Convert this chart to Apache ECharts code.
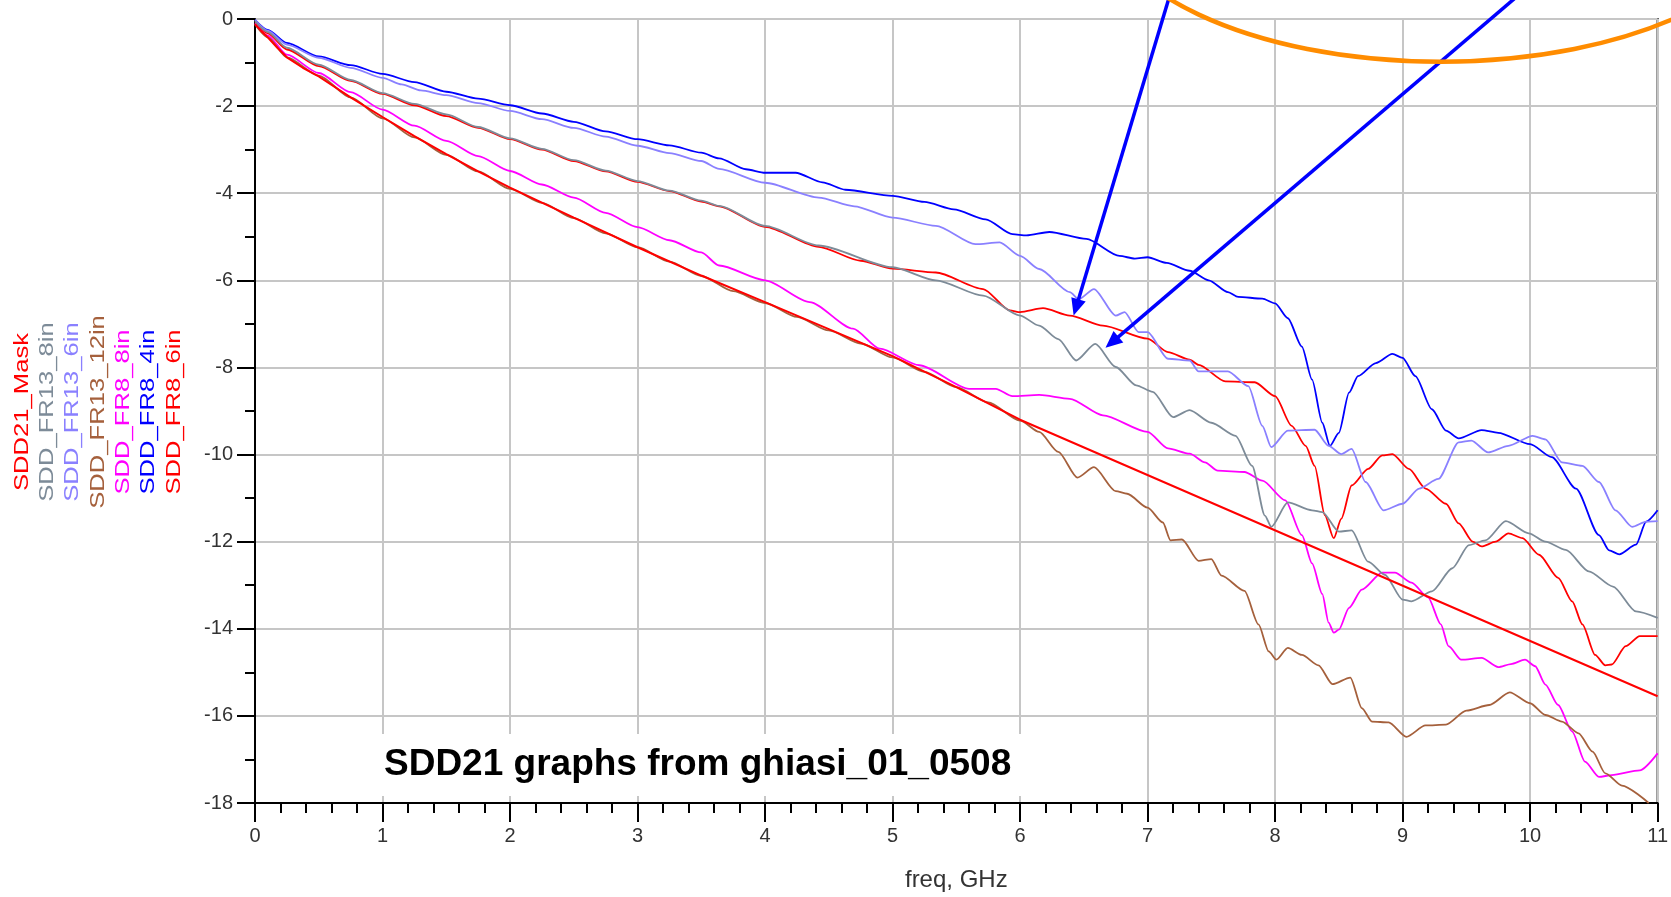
<!DOCTYPE html>
<html>
<head>
    <meta charset="utf-8"/>
    <title>SDD21 graphs</title>
    <style>
        html, body {
            margin: 0;
            padding: 0;
            background: #fff;
        }
        #main {
            width: 1671px;
            height: 897px;
        }
    </style>
</head>
<body>
<div id="main"></div>

<script src="https://cdn.jsdelivr.net/npm/echarts/dist/echarts.min.js"></script>
<script>
    // ---- data: [freq GHz, dB] ----
    var maskData = [[0, -0.12], [0.05, -0.28], [0.1, -0.42], [0.175, -0.66], [0.25, -0.88], [0.375, -1.12],
        [0.5, -1.32], [0.75, -1.8], [1.0, -2.25], [1.25, -2.69], [1.5, -3.1], [1.75, -3.5], [2.0, -3.87], [2.5, -4.56],
        [3.0, -5.24], [3.5, -5.89], [4.0, -6.5], [4.5, -7.12], [5.0, -7.74], [5.5, -8.45], [6.0, -9.2], [11.0, -15.55]];

    var fr13_8in = [[0, -0.05], [0.1, -0.3], [0.25, -0.66], [0.5, -1.05], [0.75, -1.4], [1.0, -1.7], [1.25, -1.95],
        [1.5, -2.19], [1.75, -2.48], [2.0, -2.74], [2.25, -2.98], [2.5, -3.24], [2.75, -3.48], [3.0, -3.72], [3.25, -3.94],
        [3.5, -4.17], [3.64, -4.29], [4.0, -4.75], [4.42, -5.2], [5.0, -5.7], [5.34, -6.0], [5.71, -6.35], [6.0, -6.81],
        [6.15, -7.04], [6.3, -7.35], [6.44, -7.84], [6.59, -7.46], [6.75, -7.99], [6.91, -8.41], [7.04, -8.56], [7.2, -9.14],
        [7.33, -8.98], [7.5, -9.27], [7.69, -9.57], [7.82, -10.26], [7.92, -11.4], [7.97, -11.66], [8.1, -11.1],
        [8.29, -11.28], [8.37, -11.32], [8.5, -11.77], [8.6, -11.74], [8.73, -12.46], [8.86, -12.76], [9.0, -13.33],
        [9.07, -13.37], [9.23, -13.14], [9.39, -12.61], [9.52, -12.08], [9.65, -11.97], [9.81, -11.53], [9.99, -11.81],
        [10.12, -12.0], [10.28, -12.19], [10.46, -12.68], [10.65, -13.03], [10.83, -13.6], [11.0, -13.75]];

    var fr13_6in = [[0, -0.02], [0.1, -0.27], [0.25, -0.59], [0.5, -0.89], [0.75, -1.12], [1.0, -1.35], [1.15, -1.5],
        [1.3, -1.64], [1.5, -1.75], [1.75, -1.93], [2.0, -2.11], [2.25, -2.3], [2.5, -2.5], [2.75, -2.7], [3.0, -2.91],
        [3.25, -3.08], [3.5, -3.26], [3.64, -3.44], [4.0, -3.76], [4.42, -4.1], [4.7, -4.3], [5.0, -4.56], [5.34, -4.75],
        [5.65, -5.17], [5.84, -5.13], [6.0, -5.44], [6.15, -5.74], [6.39, -6.27], [6.46, -6.43], [6.58, -6.2], [6.75, -6.81],
        [6.82, -6.73], [6.93, -7.19], [7.0, -7.19], [7.16, -7.8], [7.33, -7.84], [7.4, -8.09], [7.63, -8.09], [7.79, -8.43],
        [7.9, -9.34], [7.97, -9.83], [8.1, -9.45], [8.31, -9.43], [8.42, -9.8], [8.52, -9.99], [8.6, -9.87], [8.71, -10.63],
        [8.85, -11.28], [9.0, -11.13], [9.13, -10.78], [9.28, -10.56], [9.44, -9.72], [9.54, -9.68], [9.67, -9.95],
        [9.83, -9.8], [10.02, -9.57], [10.12, -9.65], [10.25, -10.18], [10.41, -10.26], [10.54, -10.63], [10.67, -11.28],
        [10.8, -11.66], [10.91, -11.54], [11.0, -11.53]];

    var fr13_12in = [[0, -0.12], [0.1, -0.42], [0.25, -0.88], [0.5, -1.3], [0.75, -1.8], [1.0, -2.28], [1.25, -2.72],
        [1.5, -3.12], [1.75, -3.5], [2.0, -3.9], [2.25, -4.22], [2.5, -4.57], [2.75, -4.92], [3.0, -5.24], [3.25, -5.57],
        [3.5, -5.9], [3.75, -6.25], [4.0, -6.52], [4.25, -6.84], [4.5, -7.15], [4.75, -7.45], [5.0, -7.77], [5.25, -8.1],
        [5.5, -8.45], [5.75, -8.8], [6.0, -9.22], [6.15, -9.48], [6.3, -9.94], [6.45, -10.53], [6.58, -10.29], [6.75, -10.84],
        [6.84, -10.9], [7.0, -11.22], [7.12, -11.56], [7.18, -11.97], [7.27, -11.95], [7.4, -12.44], [7.5, -12.4],
        [7.58, -12.78], [7.76, -13.13], [7.87, -13.9], [7.95, -14.52], [8.01, -14.71], [8.1, -14.44], [8.21, -14.6],
        [8.34, -14.84], [8.45, -15.27], [8.59, -15.12], [8.68, -15.82], [8.76, -16.13], [8.89, -16.15], [9.03, -16.48],
        [9.18, -16.22], [9.34, -16.2], [9.5, -15.88], [9.68, -15.75], [9.84, -15.46], [10.0, -15.71], [10.12, -15.98],
        [10.25, -16.13], [10.38, -16.4], [10.49, -16.82], [10.59, -17.32], [10.72, -17.6], [10.93, -18.0]];

    var fr8_8in = [[0, -0.1], [0.1, -0.38], [0.25, -0.82], [0.5, -1.24], [0.75, -1.68], [1.0, -2.08], [1.25, -2.45],
        [1.5, -2.8], [1.75, -3.15], [2.0, -3.49], [2.25, -3.8], [2.5, -4.1], [2.75, -4.45], [3.0, -4.78], [3.25, -5.08],
        [3.5, -5.36], [3.64, -5.66], [4.0, -6.0], [4.35, -6.5], [4.69, -7.11], [4.9, -7.57], [5.21, -7.95], [5.6, -8.49],
        [5.81, -8.49], [5.94, -8.66], [6.15, -8.63], [6.39, -8.72], [6.65, -9.1], [7.0, -9.48], [7.16, -9.86], [7.33, -9.98],
        [7.45, -10.18], [7.55, -10.37], [7.76, -10.4], [7.9, -10.6], [8.08, -11.05], [8.21, -11.85], [8.29, -12.5],
        [8.37, -13.2], [8.42, -13.86], [8.46, -14.09], [8.5, -14.02], [8.58, -13.52], [8.68, -13.1], [8.84, -12.71],
        [8.94, -12.71], [9.07, -12.94], [9.2, -13.28], [9.3, -13.9], [9.36, -14.4], [9.46, -14.71], [9.62, -14.67],
        [9.75, -14.88], [9.85, -14.81], [9.96, -14.71], [10.04, -14.86], [10.12, -15.28], [10.22, -15.75], [10.33, -16.36],
        [10.43, -17.05], [10.54, -17.4], [10.64, -17.36], [10.86, -17.25], [11.0, -16.86]];

    var fr8_4in = [[0, -0.02], [0.1, -0.25], [0.25, -0.55], [0.5, -0.86], [0.75, -1.06], [1.0, -1.26], [1.25, -1.45],
        [1.5, -1.67], [1.75, -1.83], [2.0, -1.98], [2.25, -2.17], [2.5, -2.36], [2.75, -2.58], [3.0, -2.76], [3.25, -2.9],
        [3.5, -3.07], [3.64, -3.2], [3.85, -3.45], [4.0, -3.53], [4.24, -3.53], [4.45, -3.75], [4.63, -3.92], [5.0, -4.06],
        [5.25, -4.2], [5.48, -4.37], [5.73, -4.6], [5.94, -4.94], [6.05, -4.97], [6.23, -4.89], [6.52, -5.05], [6.78, -5.44],
        [6.9, -5.5], [7.0, -5.47], [7.15, -5.6], [7.33, -5.78], [7.48, -6.0], [7.63, -6.27], [7.71, -6.38], [7.9, -6.42],
        [8.0, -6.53], [8.1, -6.87], [8.21, -7.52], [8.29, -8.28], [8.37, -9.27], [8.43, -9.8], [8.5, -9.5], [8.58, -8.58],
        [8.65, -8.2], [8.79, -7.9], [8.92, -7.69], [9.0, -7.78], [9.1, -8.2], [9.23, -8.96], [9.34, -9.45], [9.44, -9.63],
        [9.62, -9.44], [9.75, -9.5], [10.0, -9.76], [10.17, -10.06], [10.36, -10.78], [10.54, -11.85], [10.62, -12.2],
        [10.7, -12.29], [10.83, -12.07], [10.91, -11.54], [11.0, -11.28]];

    var fr8_6in = [[0, -0.08], [0.1, -0.33], [0.25, -0.7], [0.5, -1.08], [0.75, -1.42], [1.0, -1.72], [1.25, -1.98],
        [1.5, -2.23], [1.75, -2.5], [2.0, -2.76], [2.25, -3.0], [2.5, -3.26], [2.75, -3.5], [3.0, -3.74], [3.25, -3.95],
        [3.5, -4.19], [3.64, -4.3], [4.0, -4.77], [4.42, -5.23], [4.75, -5.55], [5.0, -5.73], [5.34, -5.82], [5.71, -6.2],
        [5.92, -6.69], [6.0, -6.73], [6.18, -6.64], [6.39, -6.81], [6.65, -7.04], [7.0, -7.34], [7.16, -7.65], [7.33, -7.82],
        [7.4, -7.94], [7.61, -8.32], [7.84, -8.34], [8.0, -8.66], [8.13, -9.34], [8.24, -9.8], [8.31, -10.26], [8.39, -11.39],
        [8.46, -11.92], [8.52, -11.47], [8.6, -10.71], [8.73, -10.33], [8.84, -10.02], [8.92, -9.99], [9.05, -10.33],
        [9.18, -10.78], [9.34, -11.13], [9.44, -11.58], [9.55, -12.0], [9.62, -12.11], [9.73, -12.0], [9.83, -11.81],
        [9.94, -11.92], [10.07, -12.3], [10.22, -12.83], [10.33, -13.37], [10.41, -13.9], [10.51, -14.6], [10.59, -14.84],
        [10.64, -14.82], [10.75, -14.4], [10.86, -14.17], [11.0, -14.17]];

    // legend order (left to right), colours and data
    var seriesNames = ['SDD21_Mask', 'SDD_FR13_8in', 'SDD_FR13_6in', 'SDD_FR13_12in', 'SDD_FR8_8in', 'SDD_FR8_4in', 'SDD_FR8_6in'];
    var seriesColors = ['#ff0000', '#7d8b98', '#8a80ff', '#a5603c', '#ff00ff', '#0000ff', '#ff0000'];
    var seriesData = [maskData, fr13_8in, fr13_6in, fr13_12in, fr8_8in, fr8_4in, fr8_6in];

    var titleText = 'SDD21 graphs from ghiasi_01_0508';

    // annotations (data coords): arrow tips and tails, orange ellipse
    var arrowTips = [[6.42, -6.81], [6.67, -7.55]];
    var arrowTails = [[7.18, 0.6], [9.93, 0.6]];
    var ellipseCenter = [9.3, 2.73];
    var ellipseRadii = [2.69, 3.71];

    var font = '"Liberation Sans", Arial, sans-serif';
    var chart = echarts.init(document.getElementById('main'));

    // draw in reverse legend order so mask ends up on top
    var series = [];
    for (var i = seriesNames.length - 1; i >= 0; i--) {
        series.push({
            name: seriesNames[i],
            type: 'line',
            data: seriesData[i],
            showSymbol: false,
            // mask is piecewise straight, measured traces are smooth
            smooth: i === 0 ? false : 0.25,
            smoothMonotone: 'x',
            lineStyle: {color: seriesColors[i], width: i === 0 ? 2 : 1.8},
            itemStyle: {color: seriesColors[i]},
            animation: false
        });
    }

    var option = {
        animation: false,
        backgroundColor: '#fff',
        title: {
            text: titleText,
            left: 370,
            top: 734,
            padding: [11, 14],
            backgroundColor: '#fff',
            textStyle: {fontSize: 37, fontWeight: 'bold', fontFamily: font, color: '#000', lineHeight: 40}
        },
        grid: {
            left: 255, right: 13, top: 19, bottom: 91,
            show: true, borderColor: '#000', borderWidth: 2
        },
        xAxis: {
            type: 'value',
            min: 0, max: 11, interval: 1,
            name: 'freq, GHz',
            nameLocation: 'middle',
            nameGap: 65,
            nameTextStyle: {fontSize: 24, fontFamily: font, color: '#333'},
            axisLine: {onZero: false, lineStyle: {color: '#000', width: 2}},
            axisTick: {length: 19, lineStyle: {color: '#000', width: 2}},
            minorTick: {show: true, splitNumber: 5, length: 10, lineStyle: {color: '#000', width: 2}},
            axisLabel: {margin: 23, fontSize: 20, fontFamily: font, color: '#333'},
            splitLine: {lineStyle: {color: '#c6c6c6', width: 2}}
        },
        yAxis: {
            type: 'value',
            min: -18, max: 0, interval: 2,
            axisLine: {onZero: false, lineStyle: {color: '#000', width: 2}},
            axisTick: {length: 18, lineStyle: {color: '#000', width: 2}},
            minorTick: {show: true, splitNumber: 2, length: 10, lineStyle: {color: '#000', width: 2}},
            axisLabel: {margin: 22, fontSize: 20, fontFamily: font, color: '#333'},
            splitLine: {lineStyle: {color: '#c6c6c6', width: 2}}
        },
        series: series
    };
    chart.setOption(option);

    // vertical legend + arrows + ellipse, placed from the axes
    function toPx(p) {
        return chart.convertToPixel({gridIndex: 0}, p);
    }

    var graphics = [];
    seriesNames.forEach(function (name, i) {
        graphics.push({
            type: 'text',
            x: 22 + i * 25.3,
            y: 412,
            rotation: Math.PI / 2,
            scaleX: 1.22,
            style: {
                text: name,
                fill: seriesColors[i],
                font: '21px ' + font,
                align: 'center',
                verticalAlign: 'middle'
            },
            z: 10
        });
    });

    var headLen = 17, headWid = 15;
    arrowTips.forEach(function (tip, i) {
        var t = toPx(tip), s = toPx(arrowTails[i]);
        var dx = t[0] - s[0], dy = t[1] - s[1];
        var len = Math.sqrt(dx * dx + dy * dy);
        var ux = dx / len, uy = dy / len;
        var bx = t[0] - ux * headLen, by = t[1] - uy * headLen;
        graphics.push({
            type: 'line',
            shape: {x1: s[0], y1: s[1], x2: bx + ux * 2, y2: by + uy * 2},
            style: {stroke: '#0000ff', lineWidth: 3.5},
            z: 20
        });
        graphics.push({
            type: 'polygon',
            shape: {
                points: [[t[0], t[1]],
                    [bx - uy * headWid / 2, by + ux * headWid / 2],
                    [bx + uy * headWid / 2, by - ux * headWid / 2]]
            },
            style: {fill: '#0000ff'},
            z: 20
        });
    });

    var c = toPx(ellipseCenter);
    var r = toPx([ellipseCenter[0] + ellipseRadii[0], ellipseCenter[1] - ellipseRadii[1]]);
    graphics.push({
        type: 'ellipse',
        shape: {cx: c[0], cy: c[1], rx: r[0] - c[0], ry: r[1] - c[1]},
        style: {stroke: '#ff8c00', fill: null, lineWidth: 4.5},
        z: 20
    });

    chart.setOption({graphic: graphics});

    window.onresize = function () {
        chart.resize();
    };
</script>
</body>
</html>
